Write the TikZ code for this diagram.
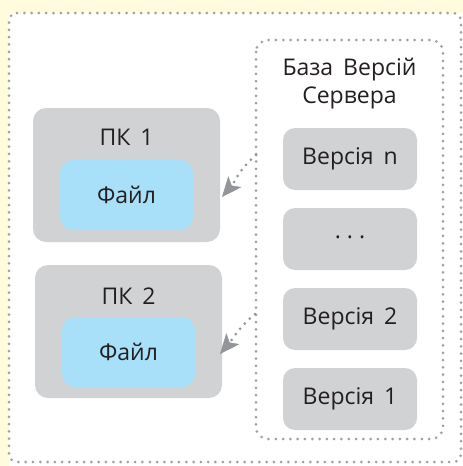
\documentclass[tikz,border=0pt]{standalone}
\usepackage{fontspec}
\setmainfont{Open Sans}
\usetikzlibrary{arrows.meta}
\definecolor{bgyellow}{HTML}{FFFCDD}
\definecolor{dotgray}{HTML}{A0A1A4}
\definecolor{boxgray}{HTML}{D1D2D4}
\definecolor{fileblue}{HTML}{A8DFF9}
\definecolor{txt}{HTML}{231F20}
\definecolor{arrgray}{HTML}{939598}
\tikzset{
  dotline/.style={draw=dotgray, line width=3pt, line cap=round, dash pattern=on 0pt off 7.3pt},
  pcbox/.style={fill=boxgray, rounded corners=13pt},
  filebox/.style={fill=fileblue, rounded corners=13pt},
  verbox/.style={fill=boxgray, rounded corners=12pt},
  lbl/.style={text=txt, font=\fontsize{23}{28}\selectfont, inner sep=0pt, align=center},
  arr/.style={draw=arrgray, line width=3pt, line cap=round, dash pattern=on 0pt off 7pt, -{Stealth[length=20pt,width=17pt,inset=5pt,fill=arrgray,line width=0.5pt]}}
}
\begin{document}
\begin{tikzpicture}[x=1pt,y=-1pt]
\useasboundingbox (0,0) rectangle (463,466);
\fill[bgyellow] (0,0) rectangle (463,466);
\fill[white] (9,13) rectangle (470,470);
\draw[dotline, rounded corners=8pt] (9,13) -- (461,13) -- (461,462) -- (9,462) -- cycle;
% server box
\draw[dotline, rounded corners=12pt] (256,40) rectangle (443,439);
\node[lbl] (srvtitle) at (349.5,84) {База\hspace{4pt} Версій\\Сервера};
% version boxes
\path[verbox] (283,128) rectangle (417,190);
\node[lbl] (vn) at (350,159) {Версія\hspace{4pt} n};
\path[verbox] (283,208) rectangle (417,270);
\node[lbl] (vd) at (350,237) {.\hspace{6pt}.\hspace{6pt}.};
\path[verbox] (283,288) rectangle (417,350);
\node[lbl] (v2) at (350,319) {Версія\hspace{4pt} 2};
\path[verbox] (283,368) rectangle (417,430);
\node[lbl] (v1) at (350,399) {Версія\hspace{4pt} 1};
% PCs
\path[pcbox] (33,108) rectangle (220,242);
\node[lbl] (pc1) at (126.5,137) {ПК\hspace{4pt} 1};
\path[filebox] (60,160) rectangle (193,230);
\node[lbl] (f1) at (126.5,195) {Файл};
\path[pcbox] (35,265) rectangle (222,398);
\node[lbl] (pc2) at (128.5,296) {ПК\hspace{4pt} 2};
\path[filebox] (62,317) rectangle (195,387);
\node[lbl] (f2) at (128.5,352) {Файл};
% arrows
\coordinate (s1) at (256,155);
\coordinate (e1) at (222,197);
\coordinate (s2) at (255,314);
\coordinate (e2) at (220,354);
\draw[arr] (s1) to[out=220,in=50] (e1);
\draw[arr] (s2) to[out=220,in=50] (e2);
\end{tikzpicture}
\end{document}
